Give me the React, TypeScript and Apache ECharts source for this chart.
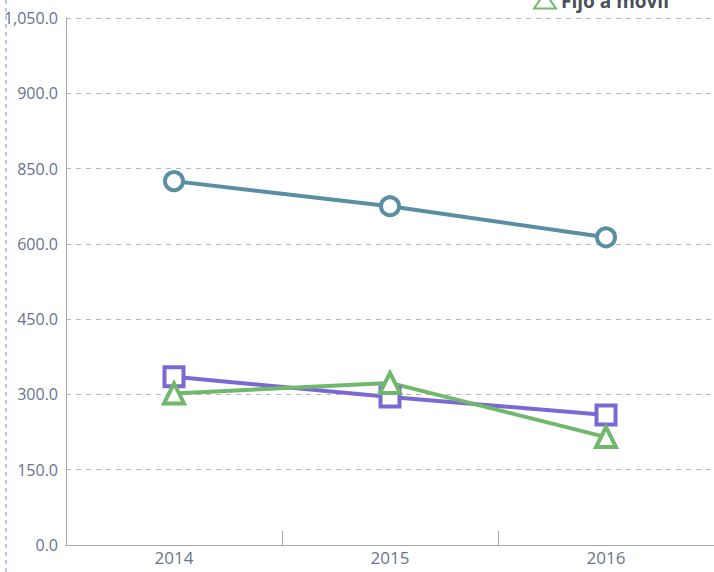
import React, { useEffect, useRef } from "react";
import * as echarts from "echarts";

const years = ["2014", "2015", "2016"];
const seriesCircle = [725, 675, 613];
const seriesSquare = [335, 295, 259];
const seriesTriangle = [302, 323, 215];
const yTickValues = [0, 150, 300, 450, 600, 750, 900, 1050];
const yTickLabels = ["0.0", "150.0", "300.0", "450.0", "600.0", "850.0", "900.0", "1,050.0"];

export default function App() {
  const ref = useRef<HTMLDivElement>(null);
  useEffect(() => {
    if (!ref.current) return;
    const chart = echarts.init(ref.current, null, { renderer: "svg" });
    const labelFor = (v: number) => {
      const i = yTickValues.indexOf(v);
      return i >= 0 ? yTickLabels[i] : "";
    };
    chart.setOption({
      animation: false,
      backgroundColor: "#ffffff",
      textStyle: { fontFamily: "Open Sans" },
      grid: { left: 66, right: -3, top: 18, bottom: 27, containLabel: false },
      legend: {
        data: [{ name: "Fijo a móvil", icon: "triangle" }],
        top: -14,
        left: 528,
        itemWidth: 22,
        itemHeight: 16,
        itemGap: 8,
        textStyle: { fontSize: 19, fontWeight: "bold", color: "#4a4f5a", fontFamily: "Open Sans" },
      },
      graphic: [
        {
          type: "line",
          shape: { x1: 6, y1: 0, x2: 6, y2: 572 },
          style: { stroke: "#8ea6de", lineWidth: 1.2, lineDash: [4, 4] },
          silent: true,
        },
      ],
      xAxis: {
        type: "category",
        data: years,
        boundaryGap: true,
        axisLine: { lineStyle: { color: "#a8a8a8", width: 1 } },
        axisTick: { show: true, alignWithLabel: false, length: 14, inside: true, lineStyle: { color: "#a8a8a8" } },
        axisLabel: { color: "#6a7490", fontSize: 17, margin: 4, fontFamily: "Open Sans" },
        splitLine: { show: false },
      },
      yAxis: {
        type: "value",
        min: 0,
        max: 1050,
        interval: 150,
        axisLine: { show: true, lineStyle: { color: "#a8a8a8", width: 1 } },
        axisTick: { show: false },
        axisLabel: {
          color: "#66728f",
          fontSize: 16,
          margin: 8,
          fontFamily: "Open Sans",
          formatter: (v: number) => labelFor(v),
        },
        splitLine: { show: true, lineStyle: { color: "#b8b8b8", type: [5, 5], width: 1 } },
      },
      series: [
        {
          name: "Móvil a móvil",
          type: "line",
          data: seriesCircle,
          symbol: "circle",
          symbolSize: 18,
          lineStyle: { color: "#5a8ea3", width: 4 },
          itemStyle: { color: "#ffffff", borderColor: "#5a8ea3", borderWidth: 4 },
        },
        {
          name: "Móvil a fijo",
          type: "line",
          data: seriesSquare,
          symbol: "rect",
          symbolSize: 19,
          lineStyle: { color: "#7b68d4", width: 4 },
          itemStyle: { color: "#ffffff", borderColor: "#7b68d4", borderWidth: 4 },
        },
        {
          name: "Fijo a móvil",
          type: "line",
          data: seriesTriangle,
          symbol: "triangle",
          symbolSize: 20,
          lineStyle: { color: "#72b86c", width: 4 },
          itemStyle: { color: "#ffffff", borderColor: "#72b86c", borderWidth: 4 },
        },
      ],
    });
    return () => chart.dispose();
  }, []);
  return <div ref={ref} style={{ width: 714, height: 572, position: "absolute", left: 0, top: 0 }} />;
}
